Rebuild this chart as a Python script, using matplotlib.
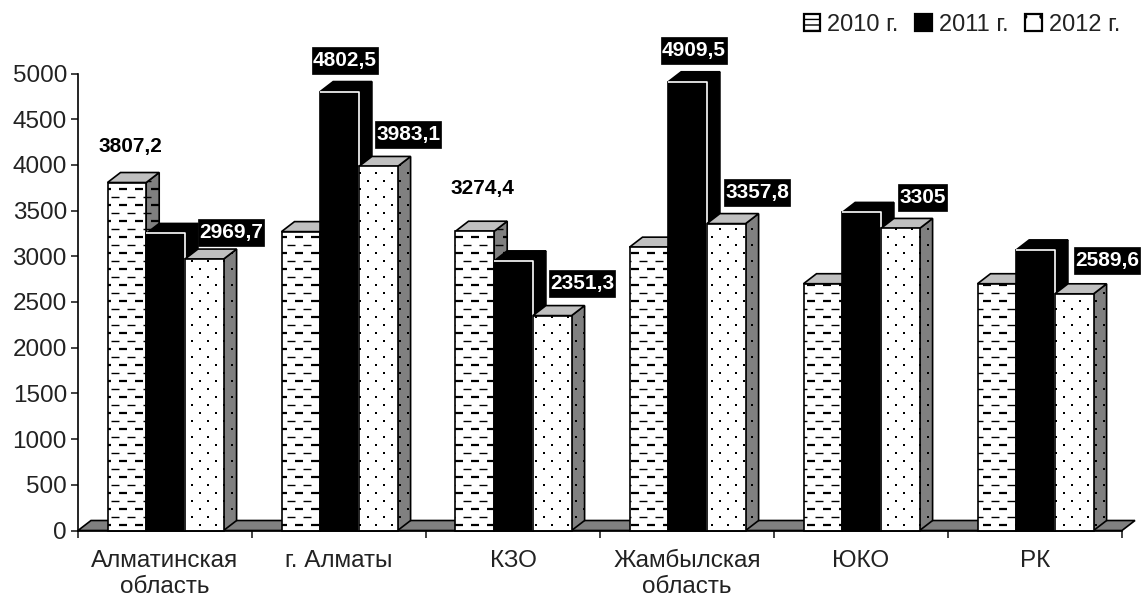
import numpy as np
import matplotlib
matplotlib.use('Agg')
import matplotlib.pyplot as plt
from matplotlib.collections import LineCollection
from matplotlib.patches import Polygon, Patch
from matplotlib.path import Path

plt.rcParams['font.family'] = ['Liberation Sans', 'DejaVu Sans']

regions = ['Алматинская\nобласть', 'г. Алматы', 'КЗО', 'Жамбылская\nобласть', 'ЮКО', 'РК']
years = ['2010 г.', '2011 г.', '2012 г.']
v2010 = [3807.2, 3270, 3274.4, 3100, 2700, 2700]
v2011 = [3250, 4802.5, 2950, 4909.5, 3480, 3070]
v2012 = [2969.7, 3983.1, 2351.3, 3357.8, 3305, 2589.6]
labels2010 = ['3807,2', None, '3274,4', None, None, None]
labels2011 = [None, '4802,5', None, '4909,5', None, None]
labels2012 = ['2969,7', '3983,1', '2351,3', '3357,8', '3305', '2589,6']

# label offsets from the top of the front face, in pixels
off2010 = [(4, 36), None, (8, 43), None, None, None]
off2011 = [None, (5, 31), None, (6, 31), None, None]
off2012 = [(27, 27), (30, 32), (30, 32), (31, 31), (22, 31), (33, 33)]

W, H = 1141, 599
x0_px, y0_px = 78, 530.5
cat_px = 174         # pixels per category
val_px = 457 / 5000  # pixels per unit of value
bar_px = 38.7
start_px = 29.5
dx3d, dy3d = 13, 10  # depth of the 3d look


def ux(px):
    return px / cat_px


def uy(px):
    return px / val_px


def label_box(x0, y0, width, height, mutation_size):
    # black box around a value label, taller than the text needs
    px, py = 1, 4
    xa, xb = x0 - px, x0 + width + px
    ya, yb = y0 - py, y0 + height + py
    return Path([(xa, ya), (xb, ya), (xb, yb), (xa, yb), (xa, ya)], closed=True)


def pattern(ax, patch, kind, z):
    # dashes or dots in pixel steps, cut to the shape of the face
    pts = patch.get_xy()
    xa, xb = pts[:, 0].min() * cat_px, pts[:, 0].max() * cat_px
    ya, yb = pts[:, 1].min() * val_px, pts[:, 1].max() * val_px
    rows = np.arange(6, yb + 8, 8)
    segs, widths, dots_x, dots_y = [], [], [], []
    for i, r in enumerate(rows):
        if r < ya:
            continue
        shift = 8 * (i % 2)
        for c in np.arange(np.floor(xa / 16) * 16 - 16 + shift, xb + 16, 16):
            if kind == 'dash':
                segs.append([(ux(c + 9), uy(r)), (ux(c + 17), uy(r))])
                widths.append(1.6 if i % 2 == 0 else 1.0)
            else:
                dots_x.append(ux(c + 10))
                dots_y.append(uy(r))
    if kind == 'dash':
        lc = LineCollection(segs, colors='black', linewidths=widths, zorder=z)
        ax.add_collection(lc, autolim=False)
        lc.set_clip_path(patch)
    else:
        dots = ax.scatter(dots_x, dots_y, s=3, c='black', marker='s', linewidths=0, zorder=z)
        dots.set_clip_path(patch)


fig = plt.figure(figsize=(W / 100, H / 100), dpi=100)
ax = fig.add_axes([x0_px / W, 1 - y0_px / H, 1 - x0_px / W, y0_px / H])
ax.set_xlim(0, ux(W - x0_px))
ax.set_ylim(0, uy(y0_px))

# floor
n = len(regions)
floor = Polygon([(0, 0), (ux(dx3d), uy(dy3d)), (n + ux(dx3d), uy(dy3d)), (n, 0)],
                closed=True, fc='#808080', ec='black', lw=1.2, zorder=1, clip_on=False)
ax.add_patch(floor)

series = [v2010, v2011, v2012]
kinds = ['dash', None, 'dot']
z = 2
for c in range(n):
    for s, vals in enumerate(series):
        left = c + ux(start_px + s * bar_px)
        w = ux(bar_px)
        h = vals[c]
        kind = kinds[s]
        black = kind is None
        side = Polygon([(left + w, 0), (left + w + ux(dx3d), uy(dy3d)),
                        (left + w + ux(dx3d), h + uy(dy3d)), (left + w, h)],
                       closed=True, fc='black' if black else '#808080', ec='black', lw=1.2,
                       zorder=z, clip_on=False)
        top = Polygon([(left, h), (left + ux(dx3d), h + uy(dy3d)),
                       (left + w + ux(dx3d), h + uy(dy3d)), (left + w, h)],
                      closed=True, fc='black' if black else '#c0c0c0', ec='black', lw=1.2,
                      zorder=z, clip_on=False)
        ax.add_patch(side)
        ax.add_patch(top)
        ax.bar(left, h, w, align='edge', color='black' if black else 'white',
               edgecolor='black', linewidth=1.2, zorder=z + 1, clip_on=False)
        front = Polygon([(left, 0), (left, h), (left + w, h), (left + w, 0)], closed=True,
                        transform=ax.transData)
        if black:
            ax.plot([left, left + w, left + w], [h, h, 0], color='white', lw=1.2,
                    zorder=z + 2, solid_capstyle='butt')
        else:
            pattern(ax, front, kind, z + 2)
            pattern(ax, side, kind, z + 2)
        z += 3

# value labels
all_labels = [labels2010, labels2011, labels2012]
all_off = [off2010, off2011, off2012]
for s, vals in enumerate(series):
    for c in range(n):
        if all_labels[s][c] is None:
            continue
        left = c + ux(start_px + s * bar_px)
        ox, oy = all_off[s][c]
        plain = s == 0
        ax.annotate(all_labels[s][c], (left + ux(bar_px / 2), vals[c]),
                    xytext=(ox * 0.72, oy * 0.72), textcoords='offset points',
                    ha='center', va='center', fontsize=15, fontweight='bold',
                    color='black' if plain else 'white', zorder=200,
                    bbox=None if plain else dict(boxstyle=label_box, fc='black', ec='black', lw=0.5))

# axes
for name in ['top', 'right']:
    ax.spines[name].set_visible(False)
ax.spines['left'].set_bounds(0, 5000)
ax.spines['bottom'].set_bounds(0, n)
ax.spines['left'].set_linewidth(1.2)
ax.spines['bottom'].set_linewidth(1.2)
ax.spines['left'].set_zorder(150)
ax.spines['bottom'].set_zorder(150)
ax.set_yticks(np.arange(0, 5001, 500))
ax.tick_params(axis='y', labelsize=17.5, length=5, width=1.2, pad=3, colors='#222222')
ax.set_xticks(np.arange(0, n + 1))
ax.set_xticklabels([])
ax.tick_params(axis='x', length=5, width=1.2, color='#222222')
ax.set_xticks(np.arange(n) + 0.5, minor=True)
ax.set_xticklabels(regions, minor=True, fontsize=17.5, color='#222222', linespacing=1.25)
ax.tick_params(axis='x', which='minor', length=0, pad=14)
ax.patch.set_visible(False)

# legend
handles = [Patch(fc='white', ec='black', lw=1.6, hatch='---'),
           Patch(fc='black', ec='black', lw=1.6),
           Patch(fc='white', ec='black', lw=1.6, hatch='.')]
fig.legend(handles, years, ncol=3, loc='upper right', bbox_to_anchor=(1120 / W, 1 - 14 / H),
           frameon=False, fontsize=17, handlelength=0.7, handleheight=0.7,
           handletextpad=0.3, columnspacing=0.7, borderpad=0, borderaxespad=0,
           labelcolor='#222222')

fig.savefig('out.png', dpi=100)
